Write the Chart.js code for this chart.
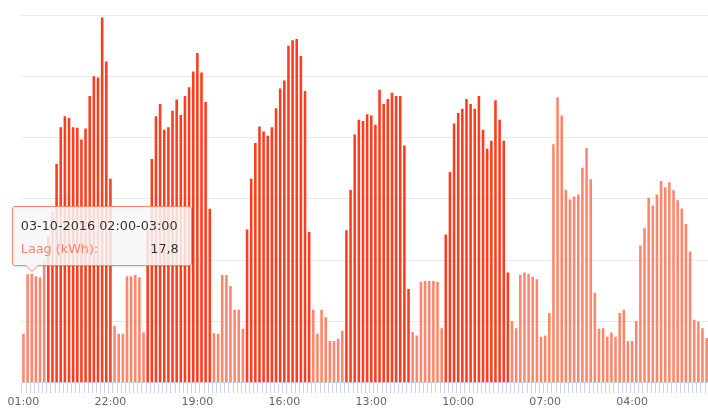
<!DOCTYPE html>
<html>
<head>
<meta charset="utf-8">
<style>
  html, body { margin: 0; padding: 0; background: #fff; overflow: hidden; }
  #wrap { position: relative; width: 708px; height: 408px; overflow: hidden; }
  #grafiek { position: absolute; left: 0; top: 0; }
  #tip {
    position: absolute; display: none; box-sizing: border-box;
    width: 180px; height: 59.5px;
    border: 1px solid #ff866c; border-radius: 3px;
    background: rgba(247, 247, 247, 0.85);
    box-shadow: 1px 1px 2px rgba(0, 0, 0, 0.12);
    font-family: "DejaVu Sans", sans-serif; font-size: 12.8px; color: #333;
  }
  #tip .titel { position: absolute; left: 8px; top: 11px; white-space: nowrap; }
  #tip .naam { position: absolute; left: 8px; top: 33.5px; white-space: nowrap; }
  #tip .waarde { position: absolute; right: 12px; top: 33.5px; white-space: nowrap; }
  #tip svg { position: absolute; left: 12px; top: 57px; overflow: visible; }
</style>
<script src="https://cdn.jsdelivr.net/npm/chart.js"></script>
</head>
<body>
<div id="wrap">
  <canvas id="grafiek" width="709" height="410"></canvas>
  <div id="tip">
    <div class="titel"></div>
    <div class="naam"></div>
    <div class="waarde"></div>
    <svg width="14" height="9"><path d="M0 1 L7 7.5 L14 1 Z" fill="rgba(247,247,247,0.95)"/><path d="M0.5 1.2 L7 7.5 L13.5 1.2" fill="none" stroke="#ff866c" stroke-width="1"/></svg>
  </div>
</div>
<script>
// Verbruik per uur (kWh), week vanaf 03-10-2016
const verbruik = [
  8.0, 17.7, 17.8, 17.4, 17.2, 20.0, 24.0, 28.0, 35.7, 41.7, 43.5, 43.2, 41.7, 41.6, 39.7, 41.5,
  46.8, 50.0, 49.8, 59.6, 52.4, 33.3, 9.3, 8.0, 8.0, 17.4, 17.4, 17.6, 17.2, 8.2, 25.0, 36.5,
  43.5, 45.5, 41.3, 41.7, 44.4, 46.2, 43.7, 46.8, 48.2, 50.8, 53.8, 50.6, 45.8, 28.4, 8.1, 8.0,
  17.6, 17.6, 15.8, 11.9, 11.9, 8.8, 25.0, 33.3, 39.1, 41.8, 41.0, 40.3, 41.7, 44.8, 48.0, 49.3,
  55.0, 55.9, 56.1, 53.3, 47.6, 24.6, 11.9, 8.0, 11.9, 10.7, 6.8, 6.8, 7.2, 8.5, 24.9, 31.5,
  40.5, 42.9, 42.7, 43.8, 43.6, 42.1, 47.8, 45.5, 46.3, 47.3, 46.8, 46.8, 38.7, 15.3, 8.3, 7.7,
  16.5, 16.6, 16.6, 16.6, 16.5, 8.9, 24.2, 34.4, 42.3, 44.0, 44.7, 46.3, 45.5, 44.7, 46.8, 41.3,
  38.2, 39.5, 46.1, 42.9, 39.5, 18.0, 10.1, 8.9, 17.6, 18.0, 17.8, 17.3, 16.9, 7.5, 7.7, 11.4,
  38.9, 46.6, 43.6, 31.5, 29.9, 30.4, 30.7, 35.1, 38.3, 33.2, 14.7, 8.8, 8.9, 7.5, 8.2, 7.5,
  11.4, 11.9, 6.8, 6.8, 10.1, 22.4, 25.2, 30.2, 28.9, 30.7, 32.9, 31.9, 32.7, 31.4, 29.8, 28.4,
  25.9, 21.4, 10.3, 10.0, 8.9, 7.3
];

// uren met hoog tarief (indexen)
const hoogBlokken = [[6, 21], [30, 45], [54, 69], [78, 93], [102, 117]];

const tickLabels = ["01:00", "22:00", "19:00", "16:00", "13:00", "10:00", "07:00", "04:00"];
const tickStap = 21;
const startDatum = new Date(2016, 9, 3, 0, 0);

const kleurHoog = "#ff3c1e";
const kleurLaag = "#ff866c";
const kleurAs = "#ccd6eb";

function isHoog(i) {
  return hoogBlokken.some(b => i >= b[0] && i <= b[1]);
}
const hoog = verbruik.map((v, i) => isHoog(i) ? v : null);
const laag = verbruik.map((v, i) => isHoog(i) ? null : v);

function pad(n) { return String(n).padStart(2, "0"); }
const labels = verbruik.map((v, i) => {
  const d = new Date(startDatum.getTime() + i * 3600000);
  const e = new Date(d.getTime() + 3600000);
  return `${pad(d.getDate())}-${pad(d.getMonth() + 1)}-${d.getFullYear()} ${pad(d.getHours())}:00-${pad(e.getHours())}:00`;
});

// html tooltip in highcharts stijl
function toonTooltip(context) {
  const tt = context.tooltip;
  const el = document.getElementById("tip");
  if (tt.opacity === 0 || !tt.dataPoints || !tt.dataPoints.length) { el.style.display = "none"; return; }
  const p = tt.dataPoints[0];
  el.querySelector(".titel").textContent = p.label;
  el.querySelector(".naam").textContent = p.dataset.label + ":";
  el.querySelector(".naam").style.color = p.dataset.backgroundColor;
  el.querySelector(".waarde").textContent = p.parsed.y.toFixed(1).replace(".", ",");
  el.style.left = (tt.caretX - 20) + "px";
  el.style.top = (tt.caretY - 67.5) + "px";
  el.style.display = "block";
}

// korte streepjes onder de as, tussen de kolommen
const asStreepjes = {
  id: "asStreepjes",
  afterDraw(chart) {
    const x = chart.scales.x;
    const ctx = chart.ctx;
    const y0 = Math.round(x.top);
    ctx.save();
    ctx.strokeStyle = kleurAs;
    ctx.lineWidth = 1;
    ctx.beginPath();
    for (let i = 0; i <= verbruik.length; i++) {
      const px = Math.round(x.getPixelForValue(i - 0.5)) + 0.5;
      ctx.moveTo(px, y0);
      ctx.lineTo(px, y0 + 10);
    }
    ctx.stroke();
    ctx.restore();
  }
};

Chart.defaults.font.family = "'DejaVu Sans', sans-serif";

const grafiek = new Chart(document.getElementById("grafiek"), {
  type: "bar",
  data: {
    labels: labels,
    datasets: [
      { label: "Hoog (kWh)", data: hoog, backgroundColor: kleurHoog },
      { label: "Laag (kWh)", data: laag, backgroundColor: kleurLaag }
    ]
  },
  plugins: [asStreepjes],
  options: {
    responsive: false,
    animation: false,
    events: [],
    layout: { padding: { left: 21.4, right: 0.3, top: 15, bottom: 0 } },
    datasets: { bar: { categoryPercentage: 1, barPercentage: 0.62, borderWidth: 0, grouped: false } },
    plugins: {
      legend: { display: false },
      tooltip: { enabled: false, external: toonTooltip }
    },
    scales: {
      x: {
        offset: true,
        grid: { display: true, drawOnChartArea: false, drawTicks: true, tickLength: 12, color: "rgba(0,0,0,0)" },
        border: { display: true, color: kleurAs },
        ticks: {
          autoSkip: false, maxRotation: 0, minRotation: 0, padding: 1,
          color: "#666", font: { size: 11 },
          callback: (v, i) => i % tickStap === 0 ? tickLabels[i / tickStap] : ""
        }
      },
      y: {
        min: 0, max: 60,
        ticks: { display: false, stepSize: 10 },
        grid: { color: "#e9e9e9", drawTicks: false },
        border: { display: false }
      }
    }
  }
});

grafiek.tooltip.setActiveElements([{ datasetIndex: 1, index: 2 }], { x: 32, y: 274 });
</script>
</body>
</html>
